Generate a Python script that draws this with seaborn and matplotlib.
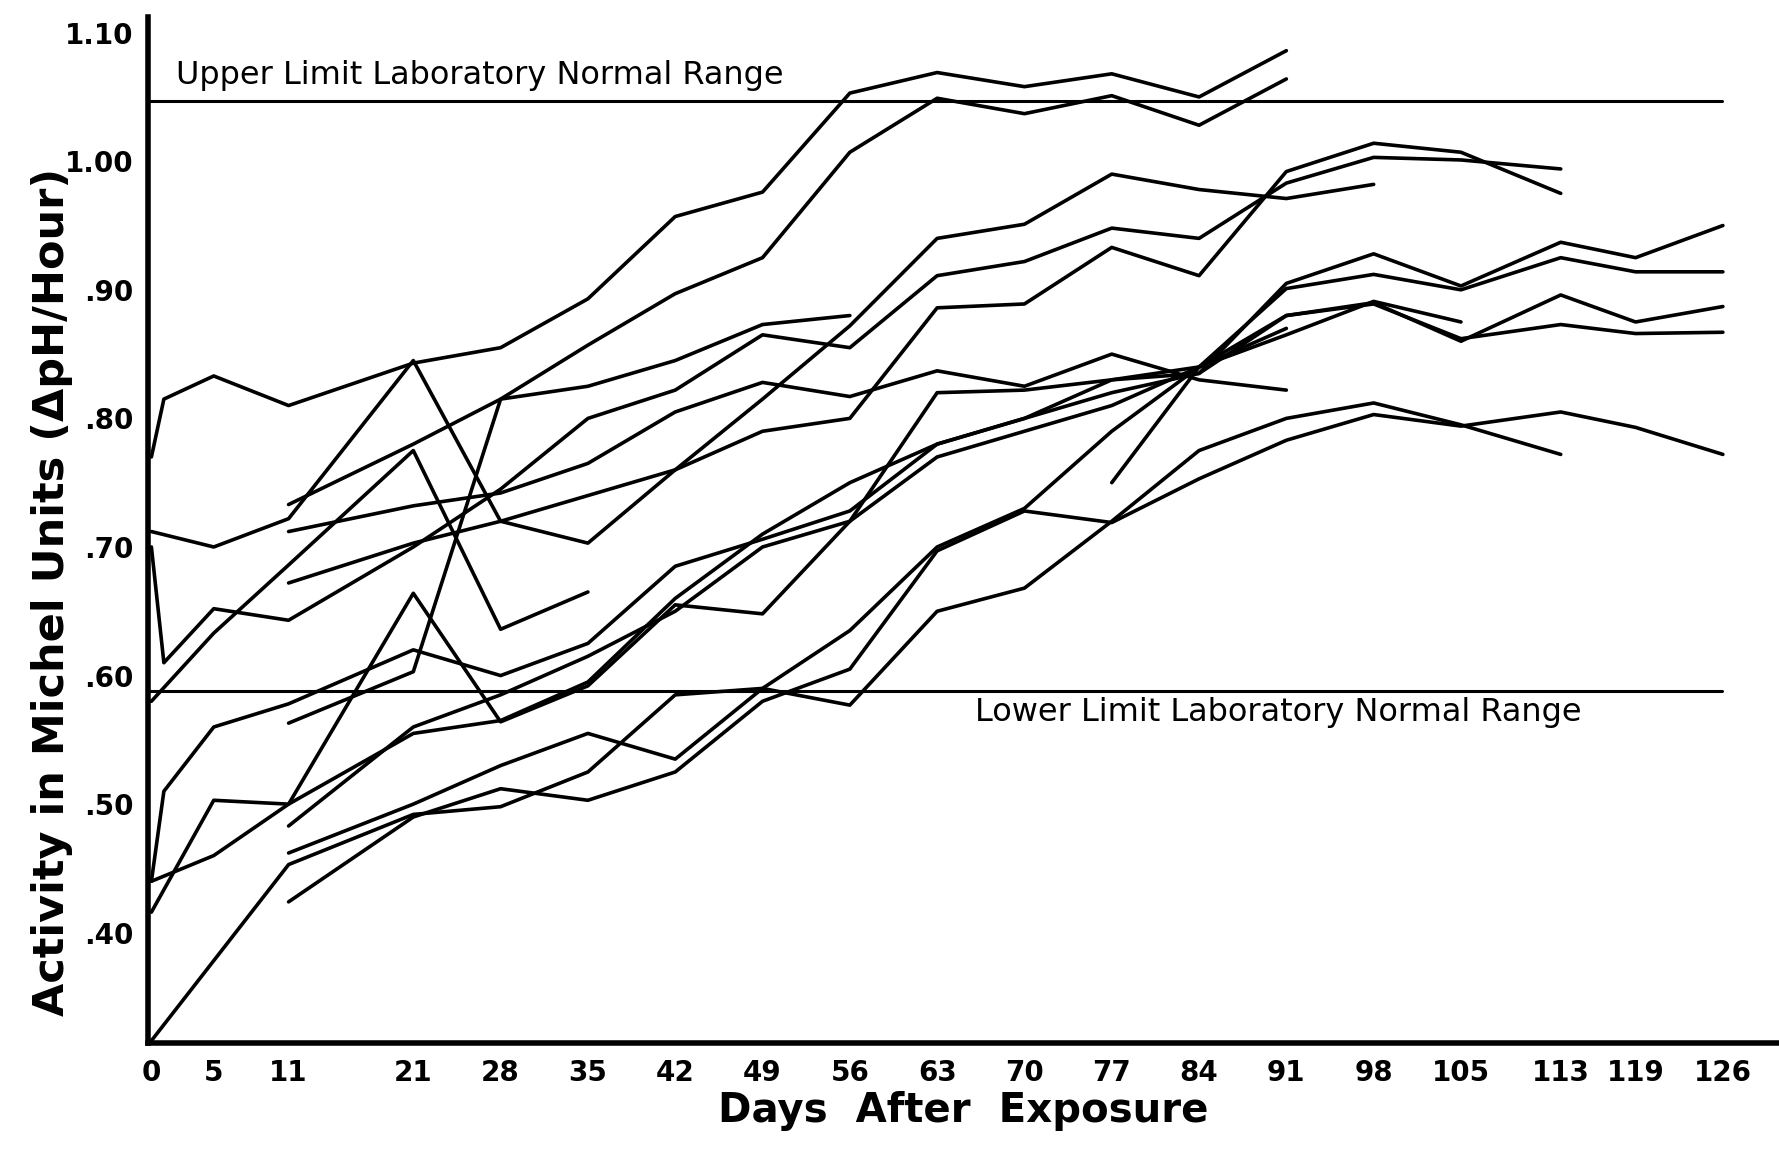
import pandas as pd
import numpy as np
import matplotlib.pyplot as plt
import seaborn as sns

# individual curves: days and activity values
days_01 = [0, 1, 5, 11, 21, 28, 35, 42, 49, 56, 63, 70, 77, 84, 91]
vals_01 = [0.77, 0.815, 0.833, 0.81, 0.843, 0.855, 0.893, 0.957, 0.976, 1.053, 1.069, 1.058, 1.068, 1.05, 1.086]

days_02 = [11, 21, 28, 35, 42, 49, 56, 63, 70, 77, 84, 91]
vals_02 = [0.733, 0.78, 0.815, 0.857, 0.897, 0.925, 1.007, 1.049, 1.037, 1.051, 1.028, 1.064]

days_03 = [11, 21, 28, 35, 42, 49, 56]
vals_03 = [0.563, 0.603, 0.815, 0.825, 0.845, 0.873, 0.88]

days_04 = [0, 5, 11, 21, 28, 35, 42, 49, 56, 63, 70, 77, 84, 91, 98]
vals_04 = [0.712, 0.70, 0.722, 0.845, 0.72, 0.703, 0.76, 0.815, 0.872, 0.94, 0.951, 0.99, 0.978, 0.971, 0.982]

days_05 = [0, 1, 5, 11, 21, 28, 35, 42, 49, 56, 63, 70, 77, 84, 91, 98, 105, 113]
vals_05 = [0.70, 0.61, 0.652, 0.643, 0.70, 0.745, 0.80, 0.822, 0.865, 0.855, 0.911, 0.922, 0.948, 0.94, 0.983, 1.003, 1.001, 0.994]

days_06 = [0, 5, 11, 21, 28, 35]
vals_06 = [0.58, 0.633, 0.686, 0.775, 0.636, 0.665]

days_07 = [11, 21, 28, 35, 42, 49, 56, 63, 70, 77, 84, 91]
vals_07 = [0.712, 0.732, 0.742, 0.765, 0.805, 0.828, 0.817, 0.837, 0.825, 0.85, 0.83, 0.822]

days_08 = [11, 21, 28, 35, 42, 49, 56, 63, 70, 77, 84, 91, 98, 105, 113]
vals_08 = [0.672, 0.703, 0.72, 0.74, 0.76, 0.79, 0.80, 0.886, 0.889, 0.933, 0.911, 0.992, 1.014, 1.007, 0.975]

days_09 = [0, 1, 5, 11, 21, 28, 35, 42, 49, 56, 63, 70, 77, 84, 91, 98, 105, 113, 119, 126]
vals_09 = [0.44, 0.51, 0.56, 0.578, 0.62, 0.60, 0.625, 0.685, 0.706, 0.728, 0.78, 0.80, 0.82, 0.835, 0.88, 0.889, 0.862, 0.873, 0.866, 0.867]

days_10 = [0, 5, 11, 21, 28, 35, 42, 49, 56, 63, 70, 77, 84, 91, 98, 105, 113, 119, 126]
vals_10 = [0.416, 0.503, 0.50, 0.664, 0.564, 0.592, 0.655, 0.648, 0.72, 0.82, 0.822, 0.83, 0.84, 0.88, 0.89, 0.86, 0.896, 0.875, 0.887]

days_11 = [0, 5, 11, 21, 28, 35, 42, 49, 56, 63, 70, 77, 84, 91, 98, 105, 113, 119, 126]
vals_11 = [0.44, 0.46, 0.50, 0.555, 0.565, 0.595, 0.66, 0.71, 0.75, 0.78, 0.80, 0.83, 0.835, 0.905, 0.928, 0.903, 0.937, 0.925, 0.95]

days_12 = [11, 21, 28, 35, 42, 49, 56, 63, 70, 77, 84, 91, 98, 105, 113, 119, 126]
vals_12 = [0.483, 0.56, 0.585, 0.615, 0.65, 0.70, 0.72, 0.77, 0.79, 0.81, 0.84, 0.901, 0.912, 0.90, 0.925, 0.914, 0.914]

days_13 = [11, 21, 28, 35, 42, 49, 56, 63, 70, 77, 84, 91, 98, 105]
vals_13 = [0.462, 0.50, 0.53, 0.555, 0.535, 0.59, 0.635, 0.70, 0.73, 0.79, 0.84, 0.865, 0.891, 0.875]

days_14 = [0, 11, 21, 28, 35, 42, 49, 56, 63, 70, 77, 84, 91, 98, 105, 113]
vals_14 = [0.316, 0.453, 0.492, 0.498, 0.525, 0.585, 0.59, 0.577, 0.65, 0.668, 0.72, 0.775, 0.80, 0.812, 0.795, 0.772]

days_15 = [11, 21, 28, 35, 42, 49, 56, 63, 70, 77, 84, 91, 98, 105, 113, 119, 126]
vals_15 = [0.424, 0.49, 0.512, 0.503, 0.525, 0.58, 0.605, 0.697, 0.728, 0.719, 0.753, 0.783, 0.803, 0.794, 0.805, 0.793, 0.772]

days_16 = [77, 84, 91]
vals_16 = [0.75, 0.84, 0.87]

upper_limit = 1.047
lower_limit = 0.588

x_ticks = [0, 5, 11, 21, 28, 35, 42, 49, 56, 63, 70, 77, 84, 91, 98, 105, 113, 119, 126]
y_ticks = [0.40, 0.50, 0.60, 0.70, 0.80, 0.90, 1.00, 1.10]
y_tick_labels = ['.40', '.50', '.60', '.70', '.80', '.90', '1.00', '1.10']

series = [(days_01, vals_01), (days_02, vals_02), (days_03, vals_03), (days_04, vals_04),
          (days_05, vals_05), (days_06, vals_06), (days_07, vals_07), (days_08, vals_08),
          (days_09, vals_09), (days_10, vals_10), (days_11, vals_11), (days_12, vals_12),
          (days_13, vals_13), (days_14, vals_14), (days_15, vals_15), (days_16, vals_16)]

rows = []
for i, (d, v) in enumerate(series):
    for day, val in zip(d, v):
        rows.append({'subject': i + 1, 'day': day, 'activity': val})
df = pd.DataFrame(rows)

sns.set_style('white')
plt.rcParams['font.family'] = ['DejaVu Sans']

fig = plt.figure(figsize=(17.79, 11.49), dpi=100)
ax = fig.add_axes([0.083, 0.092, 0.917, 0.893])

sns.lineplot(data=df, x='day', y='activity', units='subject', estimator=None,
             color='black', linewidth=2.6, sort=False, legend=False, ax=ax)

ax.axhline(upper_limit, color='black', linewidth=2.2, xmin=0, xmax=0.965)
ax.axhline(lower_limit, color='black', linewidth=2.2, xmin=0, xmax=0.965)
ax.text(2, upper_limit + 0.008, 'Upper Limit Laboratory Normal Range',
        fontsize=23, va='bottom', ha='left', color='black')
ax.text(66, lower_limit - 0.005, 'Lower Limit Laboratory Normal Range',
        fontsize=23, va='top', ha='left', color='black')

ax.set_xlim(-0.3, 130.5)
ax.set_ylim(0.314, 1.112)
ax.set_xticks(x_ticks)
ax.set_xticklabels([str(t) for t in x_ticks], fontsize=20, fontweight='bold')
ax.set_yticks(y_ticks)
ax.set_yticklabels(y_tick_labels, fontsize=20, fontweight='bold')
ax.tick_params(axis='both', direction='out', length=7, width=2, color='black', labelcolor='black')
ax.tick_params(axis='y', pad=3)
ax.tick_params(axis='x', pad=4)

for side in ['top', 'right']:
    ax.spines[side].set_visible(False)
for side in ['left', 'bottom']:
    ax.spines[side].set_linewidth(4)
    ax.spines[side].set_color('black')

ax.set_xlabel('Days  After  Exposure', fontsize=29, fontweight='bold', labelpad=3, color='black')
ax.set_ylabel('Activity in Michel Units (ΔpH/Hour)', fontsize=31, fontweight='bold', color='black')
ax.yaxis.set_label_coords(-0.046, 0.44)

fig.savefig('out.png', dpi=100, facecolor='white')
